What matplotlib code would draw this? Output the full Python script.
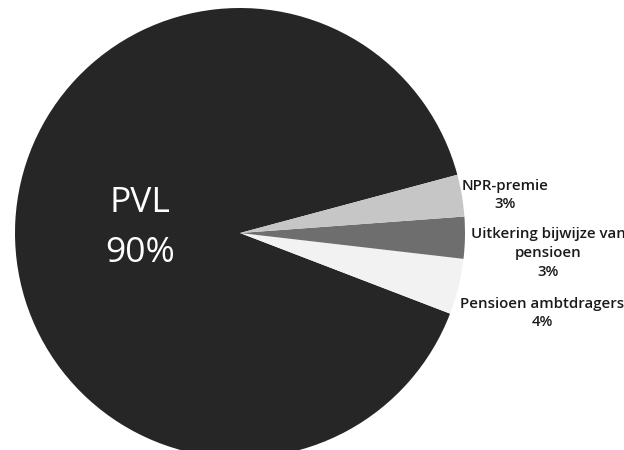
import matplotlib.pyplot as plt

# slice data (PVL first, then the small slices going counter-clockwise)
labels = ['PVL', 'Pensioen ambtdragers', 'Uitkering bijwijze van\npensioen', 'NPR-premie']
values = [90, 4, 3, 3]
colors = ['#262626', '#f2f2f2', '#6e6e6e', '#c6c6c6']

W, H = 624, 450
fig = plt.figure(figsize=(W / 100, H / 100), dpi=100)
ax = fig.add_axes([0, 0, 1, 1])

cx, cy, r = 240, H - 233, 225
wedges, _ = ax.pie(values, colors=colors, startangle=15, counterclock=True,
                   center=(cx, cy), radius=r, frame=True,
                   wedgeprops={'linewidth': 0})
ax.set_xlim(0, W)
ax.set_ylim(0, H)
ax.set_aspect('equal')
ax.axis('off')

font = 'Open Sans'
pct = ['%d%%' % v for v in values]

# big label inside the PVL slice
ax.text(140, H - 228, labels[0] + '\n' + pct[0], color='white', fontsize=25.5,
        family=font, ha='center', va='center', linespacing=1.6)

# outside labels for the small slices
small = dict(fontsize=10.8, family=font, fontweight='semibold', ha='center',
             va='center', linespacing=1.45, color='#1a1a1a')
ax.text(505, H - 195, labels[3] + '\n' + pct[3], **small)
ax.text(548, H - 253, labels[2] + '\n' + pct[2], **small)
ax.text(542, H - 313, labels[1] + '\n' + pct[1], **small)

fig.savefig('out.png', dpi=100)
